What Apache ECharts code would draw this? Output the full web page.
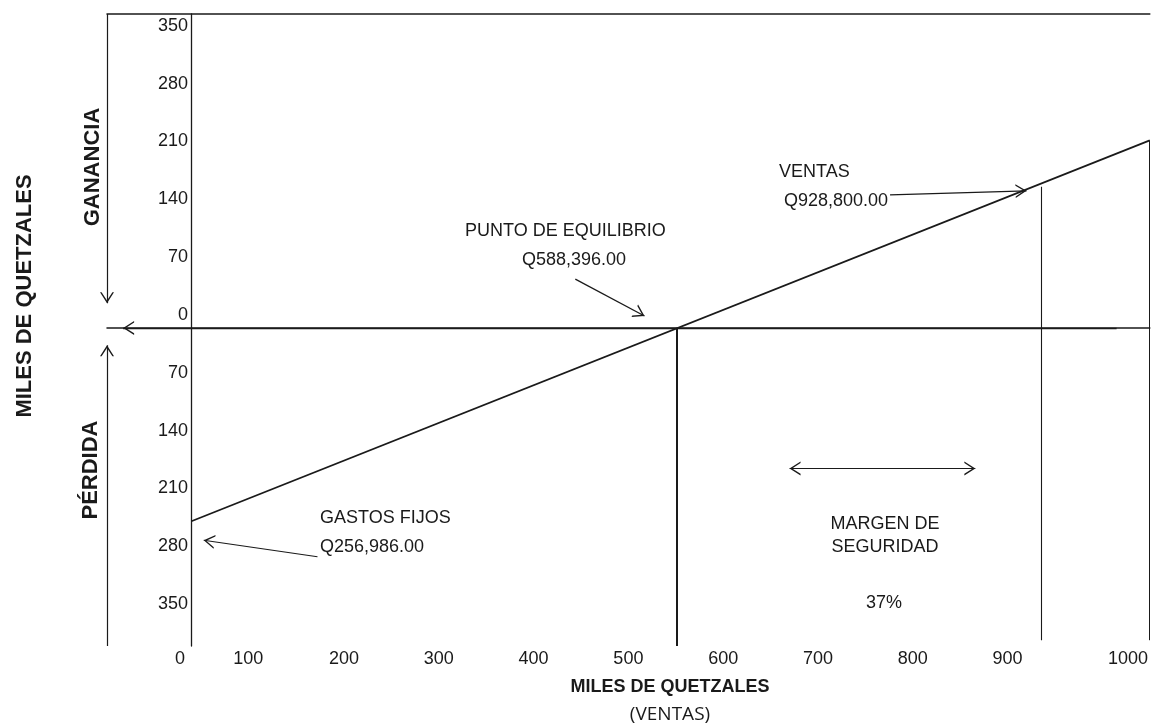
<!DOCTYPE html>
<html>
<head>
<meta charset="utf-8">
<title>Punto de equilibrio</title>
<script src="https://cdn.jsdelivr.net/npm/echarts@6/dist/echarts.min.js"></script>
<style>
html, body { margin: 0; padding: 0; background: #fff; }
#chart { width: 1151px; height: 724px; }
</style>
</head>
<body>
<div id="chart"></div>
<script>
// escalas (miles de quetzales)
const xMin = -50, xMax = 1050;
const yMin = -385, yMax = 380;
const xTickPos = [27, 99, 200, 300, 400, 500, 600, 700, 800, 900, 1027];
const xTickText = ['0', '100', '200', '300', '400', '500', '600', '700', '800', '900', '1000'];
const yTickVals = [-350, -280, -210, -140, -70, 0, 70, 140, 210, 280, 350];

// recta de ventas y lineas de referencia
const salesLine = [[39, -234], [1050, 227]];
const breakEvenX = 551;
const ventasX = 935;
const ventasTopY = 171;
const rightEdgeX = 1049;

// flechas [desde, punta]
const arrowPunto = [[444, 59], [517, 14.5]];
const arrowVentas = [[776, 161], [920, 166]];
const arrowGastos = [[172, -277], [52, -257]];
const arrowMargen = [[670, -170], [866, -170]];
const zeroLine = [[1015, 0], [-33, 0]];
const arrowGanancia = [[-50, 380], [-50, 30]];
const arrowPerdida = [[-50, -385], [-50, -21]];

const INK = '#1a1a1a';
const FONT = '"Liberation Sans", Arial, sans-serif';
// punta abierta, centrada en la punta para que la linea llegue hasta ella
const HEAD = 'path://M0,22L7,11L14,22L12.4,22L7,13.6L1.6,22ZM7,0L7,0Z';

function seg(a, b, width, startHead, endHead) {
	return [
		{ coord: a, symbol: startHead ? HEAD : 'none', lineStyle: { width: width, color: INK, type: 'solid' } },
		{ coord: b, symbol: endHead ? HEAD : 'none' }
	];
}

function txt(text, x, y, size, opts) {
	opts = opts || {};
	const align = opts.align || 'left';
	return {
		type: 'text',
		x: x,
		y: y,
		rotation: opts.rot || 0,
		silent: true,
		style: {
			text: text,
			fill: INK,
			font: (opts.bold ? 'bold ' : '') + size + 'px ' + (opts.family || FONT),
			textAlign: align,
			align: align,
			textVerticalAlign: 'middle',
			verticalAlign: 'middle'
		}
	};
}

const chart = echarts.init(document.getElementById('chart'));

const option = {
	animation: false,
	backgroundColor: '#fff',
	grid: { left: 107, right: 1, top: 14, bottom: 78 },
	xAxis: [
		{
			type: 'value',
			min: xMin,
			max: xMax,
			position: 'bottom',
			axisLine: { show: true, lineStyle: { color: INK, width: 1.5 } },
			axisTick: { show: false },
			splitLine: { show: false },
			axisLabel: {
				customValues: xTickPos,
				formatter: v => xTickText[xTickPos.indexOf(v)],
				color: INK,
				fontSize: 18,
				fontFamily: FONT,
				margin: 4
			}
		},
		{
			type: 'value',
			min: xMin,
			max: xMax,
			position: 'top',
			axisLine: { show: true, lineStyle: { color: INK, width: 1.5 } },
			axisTick: { show: false },
			splitLine: { show: false },
			axisLabel: { show: false }
		}
	],
	yAxis: {
		type: 'value',
		min: yMin,
		max: yMax,
		offset: -84,
		axisLine: { show: true, lineStyle: { color: INK, width: 1.3 } },
		axisTick: { show: false },
		splitLine: { show: false },
		axisLabel: {
			customValues: yTickVals,
			formatter: v => String(Math.abs(v)),
			color: INK,
			fontSize: 18,
			fontFamily: FONT,
			margin: 3,
			verticalAlign: 'bottom',
			lineHeight: 18,
			padding: [0, 0, 4, 0]
		}
	},
	series: [
		{
			name: 'Ventas',
			type: 'line',
			data: salesLine,
			symbol: 'none',
			clip: false,
			silent: true,
			lineStyle: { color: INK, width: 1.8 },
			markLine: {
				silent: true,
				symbol: ['none', 'none'],
				symbolSize: [14, 22],
				label: { show: false },
				emphasis: { disabled: true },
				lineStyle: { type: 'solid', color: INK, width: 1.2 },
				data: [
					seg(zeroLine[0], zeroLine[1], 1.3, false, true),
					seg([breakEvenX, 0], [breakEvenX, yMin], 2, false, false),
					seg([ventasX, ventasTopY], [ventasX, -378], 1.1, false, false),
					seg([rightEdgeX, salesLine[1][1]], [rightEdgeX, -378], 1, false, false),
					seg(arrowGanancia[0], arrowGanancia[1], 1.2, false, true),
					seg(arrowPerdida[0], arrowPerdida[1], 1.2, false, true),
					seg(arrowPunto[0], arrowPunto[1], 1.3, false, true),
					seg(arrowVentas[0], arrowVentas[1], 1.2, false, true),
					seg(arrowGastos[0], arrowGastos[1], 1.2, false, true),
					seg(arrowMargen[0], arrowMargen[1], 1.2, true, true)
				]
			}
		}
	],
	graphic: [
		txt('MILES DE QUETZALES', 25, 296, 22, { bold: true, align: 'center', rot: Math.PI / 2 }),
		txt('GANANCIA', 93, 167, 22, { bold: true, align: 'center', rot: Math.PI / 2 }),
		txt('PÉRDIDA', 91, 470, 22, { bold: true, align: 'center', rot: Math.PI / 2 }),
		txt('PUNTO DE EQUILIBRIO', 465, 231, 18),
		txt('Q588,396.00', 522, 260, 18),
		txt('VENTAS', 779, 172, 18),
		txt('Q928,800.00', 784, 201, 18),
		txt('GASTOS FIJOS', 320, 518, 18),
		txt('Q256,986.00', 320, 547, 18),
		txt('MARGEN DE', 885, 524, 18, { align: 'center' }),
		txt('SEGURIDAD', 885, 547, 18, { align: 'center' }),
		txt('37%', 884, 603, 18, { align: 'center' }),
		txt('MILES DE QUETZALES', 670, 687, 18, { bold: true, align: 'center' }),
		txt('(VENTAS)', 670, 715, 19, { align: 'center', family: '"Open Sans", "Noto Sans", sans-serif' })
	]
};

chart.setOption(option);
</script>
</body>
</html>
